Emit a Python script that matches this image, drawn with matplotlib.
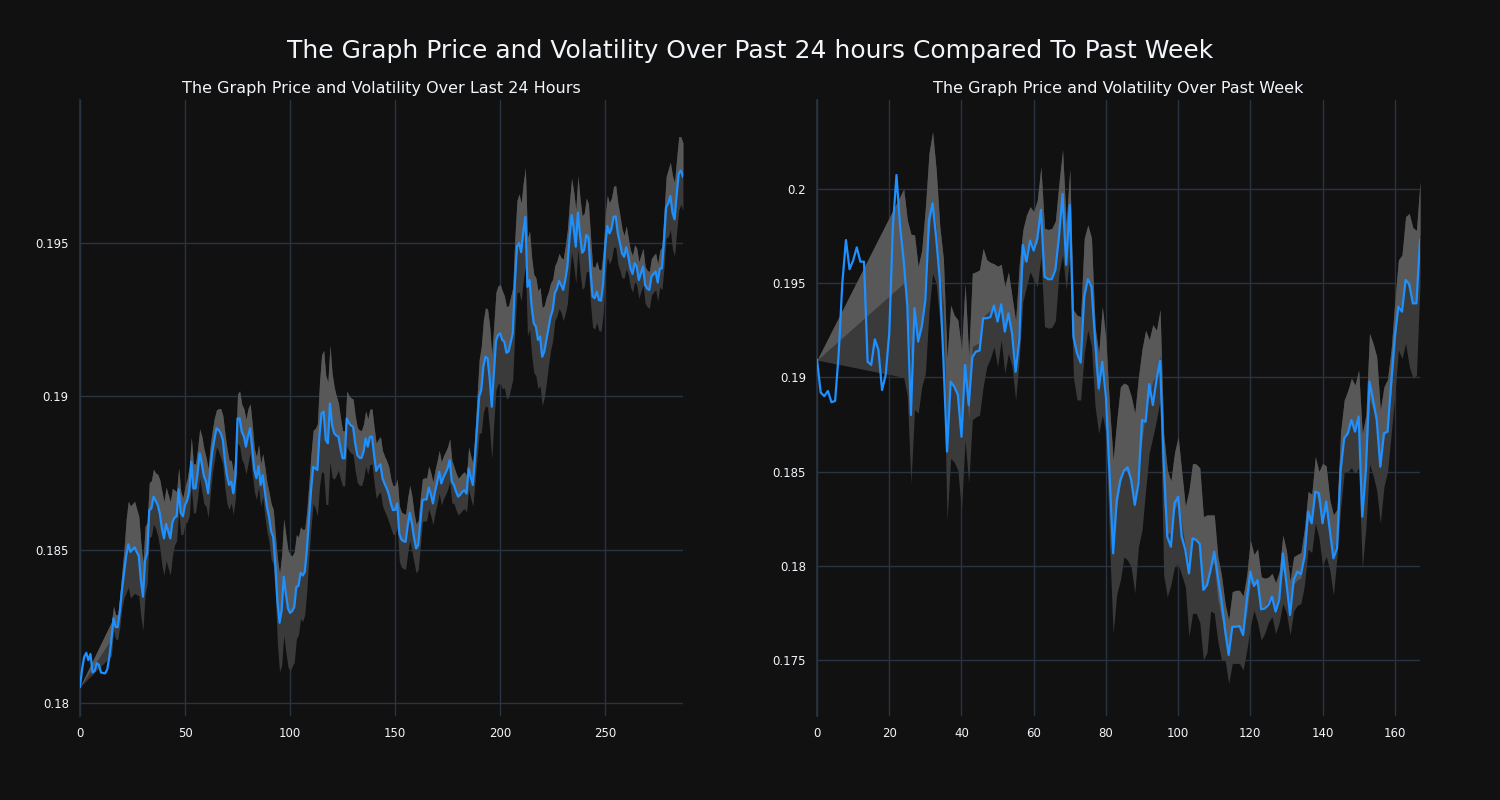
import numpy as np
import matplotlib
matplotlib.use("Agg")
import matplotlib.pyplot as plt
from matplotlib.ticker import FuncFormatter

nan = float("nan")

# ---------------- Data: last 24 hours (5-minute steps) ----------------
price_24h = [
    0.18053, 0.18110, 0.18150, 0.18164, 0.18140, 0.18160, 0.18100, 0.18105, 0.18130, 0.18125,
    0.18100, 0.18098, 0.18097, 0.18110, 0.18150, 0.18210, 0.18276, 0.18248, 0.18248, 0.18300,
    0.18370, 0.18424, 0.18480, 0.18518, 0.18493, 0.18500, 0.18508, 0.18493, 0.18480, 0.18401,
    0.18347, 0.18466, 0.18489, 0.18629, 0.18635, 0.18673, 0.18660, 0.18646, 0.18618, 0.18570,
    0.18537, 0.18584, 0.18560, 0.18537, 0.18590, 0.18605, 0.18609, 0.18697, 0.18620, 0.18609,
    0.18646, 0.18660, 0.18690, 0.18787, 0.18700, 0.18700, 0.18750, 0.18814, 0.18780, 0.18740,
    0.18722, 0.18684, 0.18760, 0.18820, 0.18860, 0.18896, 0.18890, 0.18880, 0.18858, 0.18790,
    0.18740, 0.18711, 0.18722, 0.18684, 0.18738, 0.18928, 0.18928, 0.18885, 0.18870, 0.18836,
    0.18870, 0.18896, 0.18830, 0.18760, 0.18733, 0.18773, 0.18711, 0.18743, 0.18690, 0.18640,
    0.18607, 0.18560, 0.18542, 0.18450, 0.18330, 0.18262, 0.18303, 0.18412, 0.18358, 0.18309,
    0.18294, 0.18300, 0.18313, 0.18379, 0.18382, 0.18425, 0.18416, 0.18428, 0.18500, 0.18600,
    0.18695, 0.18770, 0.18765, 0.18760, 0.18874, 0.18945, 0.18950, 0.18858, 0.18847, 0.18977,
    0.18906, 0.18880, 0.18872, 0.18869, 0.18830, 0.18798, 0.18798, 0.18928, 0.18913, 0.18905,
    0.18901, 0.18847, 0.18809, 0.18800, 0.18799, 0.18820, 0.18863, 0.18836, 0.18868, 0.18869,
    0.18809, 0.18757, 0.18770, 0.18779, 0.18733, 0.18715, 0.18700, 0.18680, 0.18650, 0.18629,
    0.18630, 0.18651, 0.18553, 0.18533, 0.18528, 0.18526, 0.18580, 0.18620, 0.18585, 0.18540,
    0.18504, 0.18515, 0.18590, 0.18662, 0.18664, 0.18664, 0.18703, 0.18681, 0.18651, 0.18690,
    0.18720, 0.18754, 0.18716, 0.18736, 0.18750, 0.18766, 0.18792, 0.18722, 0.18711, 0.18690,
    0.18673, 0.18680, 0.18689, 0.18694, 0.18683, 0.18765, 0.18736, 0.18711, 0.18800, 0.18900,
    0.18999, 0.19021, 0.19097, 0.19129, 0.19124, 0.19060, 0.18966, 0.19075, 0.19180, 0.19200,
    0.19205, 0.19184, 0.19178, 0.19142, 0.19146, 0.19175, 0.19205, 0.19368, 0.19488, 0.19500,
    0.19470, 0.19537, 0.19585, 0.19357, 0.19379, 0.19292, 0.19238, 0.19227, 0.19184, 0.19195,
    0.19129, 0.19146, 0.19184, 0.19222, 0.19260, 0.19281, 0.19336, 0.19351, 0.19376, 0.19363,
    0.19347, 0.19380, 0.19423, 0.19515, 0.19591, 0.19548, 0.19488, 0.19599, 0.19526, 0.19468,
    0.19477, 0.19526, 0.19518, 0.19412, 0.19325, 0.19320, 0.19341, 0.19314, 0.19312, 0.19368,
    0.19488, 0.19555, 0.19531, 0.19547, 0.19585, 0.19587, 0.19531, 0.19500, 0.19466, 0.19455,
    0.19486, 0.19455, 0.19417, 0.19399, 0.19434, 0.19423, 0.19379, 0.19401, 0.19423, 0.19363,
    0.19351, 0.19347, 0.19390, 0.19399, 0.19407, 0.19371, 0.19417, 0.19417, 0.19510, 0.19616,
    0.19630, 0.19653, 0.19600, 0.19577, 0.19656, 0.19727, 0.19736, 0.19716,
]

# half-width of the volatility band around the price (nan = no band value)
vol_24h = [
    0.0, nan, nan, nan, nan, nan, nan, nan, nan, nan,
    nan, nan, nan, nan, nan, 0.00055, 0.0004, 0.0004, 0.0004, 0.0005,
    0.0006, 0.0008, 0.0012, 0.0014, 0.0015, 0.0015, 0.0015, 0.0014, 0.0013, 0.0012,
    0.0011, 0.0011, 0.0010, 0.0009, 0.0009, 0.0009, 0.0009, 0.0010, 0.0011, 0.0012,
    0.0012, 0.0012, 0.0012, 0.0012, 0.0011, 0.0009, 0.0008, 0.0007, 0.0007, 0.0006,
    0.0006, 0.0007, 0.0008, 0.0008, 0.0008, 0.0008, 0.0008, 0.0008, 0.0009, 0.0009,
    0.0008, 0.0008, 0.0008, 0.0007, 0.0007, 0.0006, 0.0007, 0.0008, 0.0008, 0.0009,
    0.0009, 0.0008, 0.0007, 0.0007, 0.0007, 0.0008, 0.0009, 0.0009, 0.0009, 0.0009,
    0.0009, 0.0008, 0.0008, 0.0007, 0.0007, 0.0007, 0.0007, 0.0007, 0.0008, 0.0008,
    0.0008, 0.0009, 0.0009, 0.0010, 0.0014, 0.0016, 0.0018, 0.0019, 0.0019, 0.0019,
    0.0019, 0.0018, 0.0018, 0.0017, 0.0016, 0.0015, 0.0015, 0.0014, 0.0013, 0.0012,
    0.0012, 0.0012, 0.0013, 0.0015, 0.0017, 0.0019, 0.0020, 0.0021, 0.0020, 0.0019,
    0.0017, 0.0015, 0.0013, 0.0011, 0.0010, 0.0009, 0.0009, 0.0009, 0.0009, 0.0009,
    0.0009, 0.0009, 0.0009, 0.0009, 0.0009, 0.0009, 0.0009, 0.0009, 0.0009, 0.0009,
    0.0009, 0.0009, 0.0009, 0.0009, 0.0009, 0.0009, 0.0009, 0.0009, 0.0008, 0.0008,
    0.0008, 0.0008, 0.0009, 0.0009, 0.0009, 0.0009, 0.0009, 0.0009, 0.0009, 0.0008,
    0.0008, 0.0008, 0.0008, 0.0007, 0.0007, 0.0007, 0.0007, 0.0007, 0.0007, 0.0007,
    0.0007, 0.0007, 0.0007, 0.0007, 0.0007, 0.0007, 0.0007, 0.0007, 0.0006, 0.0006,
    0.0006, 0.0006, 0.0006, 0.0006, 0.0006, 0.0007, 0.0007, 0.0007, 0.0008, 0.0010,
    0.0012, 0.0014, 0.0015, 0.0016, 0.0016, 0.0017, 0.0017, 0.0016, 0.0016, 0.0016,
    0.0016, 0.0016, 0.0015, 0.0015, 0.0015, 0.0015, 0.0015, 0.0015, 0.0015, 0.0016,
    0.0016, 0.0016, 0.0016, 0.0016, 0.0016, 0.0016, 0.0016, 0.0016, 0.0016, 0.0016,
    0.0016, 0.0015, 0.0014, 0.0012, 0.0011, 0.0010, 0.0009, 0.0009, 0.0009, 0.0009,
    0.0010, 0.0011, 0.0012, 0.0012, 0.0012, 0.0012, 0.0012, 0.0012, 0.0012, 0.0012,
    0.0012, 0.0012, 0.0011, 0.0011, 0.0010, 0.0010, 0.0010, 0.0010, 0.0010, 0.0010,
    0.0010, 0.0010, 0.0010, 0.0010, 0.0010, 0.0010, 0.0010, 0.0009, 0.0008, 0.0007,
    0.0007, 0.0006, 0.0006, 0.0006, 0.0006, 0.0006, 0.0006, 0.0006, 0.0006, 0.0006,
    0.0006, 0.0006, 0.0006, 0.0006, 0.0006, 0.0006, 0.0006, 0.0007, 0.0009, 0.0010,
    0.0011, 0.0011, 0.0012, 0.0012, 0.0012, 0.0012, 0.0011, 0.0011,
]

# ---------------- Data: past week (hourly steps) ----------------
price_week = [
    0.19092, 0.18920, 0.18900, 0.18928, 0.18868, 0.18875, 0.19128, 0.19500, 0.19729, 0.19574,
    0.19620, 0.19690, 0.19614, 0.19614, 0.19083, 0.19066, 0.19202, 0.19145, 0.18933, 0.19013,
    0.19234, 0.19800, 0.20074, 0.19800, 0.19620, 0.19380, 0.18800, 0.19367, 0.19190, 0.19269,
    0.19411, 0.19835, 0.19924, 0.19740, 0.19517, 0.19092, 0.18606, 0.18977, 0.18951, 0.18907,
    0.18685, 0.19066, 0.18853, 0.19107, 0.19137, 0.19142, 0.19314, 0.19314, 0.19320, 0.19381,
    0.19296, 0.19388, 0.19243, 0.19340, 0.19234, 0.19030, 0.19199, 0.19703, 0.19614, 0.19726,
    0.19673, 0.19738, 0.19889, 0.19534, 0.19521, 0.19521, 0.19570, 0.19747, 0.19973, 0.19597,
    0.19915, 0.19216, 0.19128, 0.19078, 0.19428, 0.19521, 0.19481, 0.19199, 0.18942, 0.19083,
    0.18898, 0.18491, 0.18066, 0.18349, 0.18455, 0.18505, 0.18523, 0.18455, 0.18323, 0.18438,
    0.18774, 0.18765, 0.18965, 0.18853, 0.18986, 0.19087, 0.18550, 0.18154, 0.18101, 0.18332,
    0.18367, 0.18154, 0.18084, 0.17960, 0.18146, 0.18137, 0.18116, 0.17872, 0.17898, 0.17978,
    0.18075, 0.17942, 0.17818, 0.17659, 0.17527, 0.17677, 0.17677, 0.17680, 0.17633, 0.17818,
    0.17969, 0.17893, 0.17924, 0.17769, 0.17774, 0.17792, 0.17837, 0.17757, 0.17819, 0.18066,
    0.17907, 0.17739, 0.17925, 0.17969, 0.17956, 0.18048, 0.18288, 0.18226, 0.18394, 0.18385,
    0.18226, 0.18341, 0.18190, 0.18040, 0.18093, 0.18508, 0.18677, 0.18703, 0.18774, 0.18712,
    0.18792, 0.18261, 0.18508, 0.18977, 0.18880, 0.18774, 0.18526, 0.18703, 0.18712, 0.18969,
    0.19216, 0.19376, 0.19349, 0.19517, 0.19496, 0.19393, 0.19393, 0.19729,
]

upper_week = [
    0.19092, nan, nan, nan, nan, nan, nan, nan, nan, nan,
    nan, nan, nan, nan, nan, nan, nan, nan, nan, nan,
    nan, nan, nan, nan, 0.20000, 0.19835, 0.19760, 0.19756, 0.19588, 0.19676,
    0.19900, 0.20190, 0.20304, 0.20101, 0.19800, 0.19628, 0.19100, 0.19384, 0.19330, 0.19305,
    0.19145, 0.19499, 0.19113, 0.19553, 0.19560, 0.19571, 0.19685, 0.19624, 0.19610, 0.19603,
    0.19590, 0.19600, 0.19482, 0.19560, 0.19429, 0.19300, 0.19600, 0.19783, 0.19862, 0.19906,
    0.19880, 0.19941, 0.20118, 0.19791, 0.19785, 0.19790, 0.19830, 0.20030, 0.20208, 0.19818,
    0.20104, 0.19358, 0.19330, 0.19322, 0.19739, 0.19809, 0.19739, 0.19270, 0.19128, 0.19376,
    0.19200, 0.18845, 0.18562, 0.18770, 0.18950, 0.18970, 0.18960, 0.18900, 0.18811, 0.19000,
    0.19150, 0.19250, 0.19200, 0.19280, 0.19250, 0.19360, 0.18700, 0.18508, 0.18450, 0.18600,
    0.18685, 0.18500, 0.18316, 0.18400, 0.18544, 0.18540, 0.18520, 0.18261, 0.18270, 0.18270,
    0.18270, 0.18048, 0.17950, 0.17800, 0.17712, 0.17863, 0.17870, 0.17870, 0.17840, 0.17950,
    0.18137, 0.18060, 0.18090, 0.17942, 0.17934, 0.17940, 0.17960, 0.17910, 0.17970, 0.18163,
    0.18080, 0.17920, 0.18048, 0.18060, 0.18070, 0.18200, 0.18394, 0.18380, 0.18580, 0.18500,
    0.18544, 0.18530, 0.18350, 0.18270, 0.18300, 0.18712, 0.18880, 0.18930, 0.18996, 0.18960,
    0.19039, 0.18700, 0.18800, 0.19234, 0.19180, 0.19110, 0.18827, 0.18950, 0.18990, 0.19150,
    0.19400, 0.19623, 0.19650, 0.19853, 0.19870, 0.19795, 0.19780, 0.20039,
]

lower_week = [
    0.19092, nan, nan, nan, nan, nan, nan, nan, nan, nan,
    nan, nan, nan, nan, nan, nan, nan, nan, nan, nan,
    nan, nan, nan, nan, 0.19000, 0.18900, 0.18438, 0.18830, 0.18809, 0.18950,
    0.19022, 0.19350, 0.19552, 0.19496, 0.19300, 0.19128, 0.18243, 0.18570, 0.18550, 0.18507,
    0.18296, 0.18668, 0.18438, 0.18775, 0.18790, 0.18800, 0.18951, 0.19057, 0.19100, 0.19163,
    0.19057, 0.19199, 0.19022, 0.19128, 0.19057, 0.18880, 0.19100, 0.19400, 0.19482, 0.19560,
    0.19518, 0.19482, 0.19641, 0.19270, 0.19261, 0.19265, 0.19300, 0.19553, 0.19650, 0.19464,
    0.19641, 0.19000, 0.18880, 0.18880, 0.19128, 0.19252, 0.19163, 0.18845, 0.18703, 0.18800,
    0.18703, 0.18120, 0.17642, 0.17850, 0.17924, 0.18048, 0.18030, 0.17994, 0.17854, 0.18100,
    0.18190, 0.18402, 0.18600, 0.18685, 0.18774, 0.18880, 0.17950, 0.17836, 0.17900, 0.17995,
    0.18010, 0.17950, 0.17889, 0.17624, 0.17748, 0.17748, 0.17700, 0.17500, 0.17540, 0.17760,
    0.17748, 0.17600, 0.17500, 0.17500, 0.17376, 0.17482, 0.17482, 0.17482, 0.17447, 0.17550,
    0.17677, 0.17764, 0.17700, 0.17606, 0.17642, 0.17700, 0.17730, 0.17640, 0.17700, 0.17800,
    0.17750, 0.17633, 0.17760, 0.17790, 0.17800, 0.17900, 0.18088, 0.18070, 0.18226, 0.18150,
    0.18000, 0.18050, 0.17978, 0.17844, 0.18050, 0.18300, 0.18500, 0.18500, 0.18520, 0.18490,
    0.18520, 0.17987, 0.18200, 0.18540, 0.18480, 0.18400, 0.18226, 0.18420, 0.18500, 0.18700,
    0.18900, 0.19146, 0.19100, 0.19181, 0.19060, 0.18998, 0.19010, 0.19504,
]

title_main = "The Graph Price and Volatility Over Past 24 hours Compared To Past Week"
title_24h = "The Graph Price and Volatility Over Last 24 Hours"
title_week = "The Graph Price and Volatility Over Past Week"
xticks_24h = [0, 50, 100, 150, 200, 250]
xticks_week = [0, 20, 40, 60, 80, 100, 120, 140, 160]
yticks_24h = [0.18, 0.185, 0.19, 0.195]
yticks_week = [0.175, 0.18, 0.185, 0.19, 0.195, 0.2]

# ---------------- Styling ----------------
BG = "#111111"
GRID = "#283442"
TXT = "#f2f5fa"
LINE = "#1e90ff"
BAND_DARK = "#3a3a3a"
BAND_LIGHT = "#585858"

fig = plt.figure(figsize=(15, 8), dpi=100, facecolor=BG)
ax1 = fig.add_axes([0.0533, 0.105, 0.402, 0.77])
ax2 = fig.add_axes([0.5447, 0.105, 0.402, 0.77])

fig.text(0.5, 0.936, title_main, ha="center", va="center", color=TXT, fontsize=18)


def draw(ax, x, price, upper, lower, xlim, ylim, xticks, yticks, title):
    ax.set_facecolor(BG)
    x = np.asarray(x, dtype=float)
    price = np.asarray(price, dtype=float)
    upper = np.asarray(upper, dtype=float)
    lower = np.asarray(lower, dtype=float)
    ok = ~(np.isnan(upper) | np.isnan(lower))
    xb, ub, lb = x[ok], upper[ok], lower[ok]
    mid = (ub + lb) / 2.0
    ax.fill_between(xb, lb, ub, color=BAND_DARK, linewidth=0, zorder=2)
    ax.fill_between(xb, mid, ub, color=BAND_LIGHT, linewidth=0, zorder=2)
    ax.plot(x, price, color=LINE, linewidth=1.6, zorder=3)
    ax.set_xlim(*xlim)
    ax.set_ylim(*ylim)
    ax.set_xticks(xticks)
    ax.set_yticks(yticks)
    ax.yaxis.set_major_formatter(FuncFormatter(lambda v, p: f"{v:g}"))
    ax.grid(True, color=GRID, linewidth=1.0, zorder=0)
    ax.set_axisbelow(True)
    for side in ["top", "right", "bottom"]:
        ax.spines[side].set_visible(False)
    ax.spines["left"].set_color(GRID)
    ax.spines["left"].set_linewidth(1.2)
    ax.tick_params(colors=TXT, labelsize=8.5, length=0, pad=8)
    ax.set_title(title, color=TXT, fontsize=11.5, pad=5)


x24 = np.arange(len(price_24h))
p24 = np.asarray(price_24h)
v24 = np.asarray(vol_24h)
draw(ax1, x24, p24, p24 + v24, p24 - v24, (0, len(price_24h) - 1), (0.17958, 0.19966),
     xticks_24h, yticks_24h, title_24h)

xw = np.arange(len(price_week))
draw(ax2, xw, price_week, upper_week, lower_week, (0, len(price_week) - 1), (0.17203, 0.20472),
     xticks_week, yticks_week, title_week)

fig.savefig("out.png", dpi=100, facecolor=BG)
